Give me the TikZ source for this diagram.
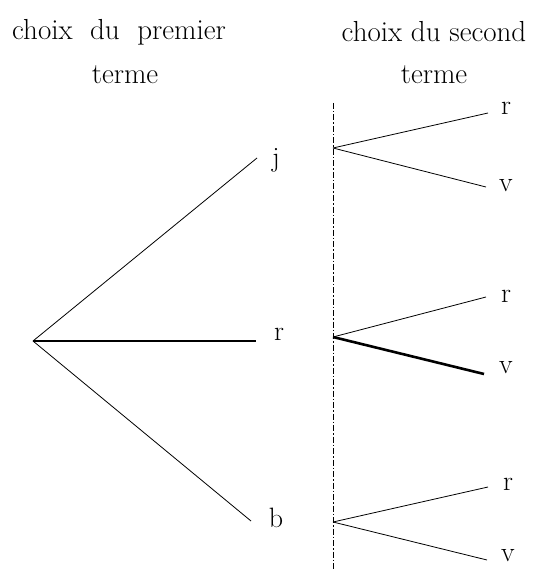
\documentclass[tikz,border=0pt]{standalone}
\begin{document}
\begin{tikzpicture}[x=1pt,y=-1pt,
  lbl/.style={font=\fontsize{28}{32}\selectfont, inner sep=0pt},
  title/.style={font=\fontsize{29}{34}\selectfont, inner sep=0pt, align=center},
  edge/.style={line width=0.8pt},
  heavy/.style={line width=2.6pt},
  axis/.style={line width=0.8pt, dash pattern=on 6pt off 2pt on 1.5pt off 2pt}]
\useasboundingbox (0,0) rectangle (538,569);
% titles
\node[title] (t1) at (119,32) {choix\ \ du\ \ premier};
\node[title] (t1b) at (125,75) {terme};
\node[title] (t2) at (434,32) {choix du second};
\node[title] (t2b) at (434,75) {terme};
% first level
\coordinate (root) at (33,341);
\coordinate (ej) at (257,158);
\coordinate (er) at (256,341);
\coordinate (eb) at (251,521);
\node[lbl] (lj) at (276,160) {j};
\node[lbl] (lr) at (279,334) {r};
\node[lbl] (lb) at (276,518) {b};
\draw[edge] (root) -- (ej);
\draw[heavy] (root) -- (er);
\draw[edge] (root) -- (eb);
% axis
\coordinate (at) at (333,103);
\coordinate (ab) at (333,569);
\draw[axis] (at) -- (ab);
% second level
\coordinate (s1) at (333,148);
\coordinate (s2) at (333,337);
\coordinate (s3) at (333,522);
\coordinate (s1r) at (488,113);
\coordinate (s1v) at (486,187);
\coordinate (s2r) at (486,297);
\coordinate (s2v) at (484,374);
\coordinate (s3r) at (488,487);
\coordinate (s3v) at (487,560);
\node[lbl] (l1r) at (506,108) {r};
\node[lbl] (l1v) at (506,186) {v};
\node[lbl] (l2r) at (506,296) {r};
\node[lbl] (l2v) at (506,368) {v};
\node[lbl] (l3r) at (508,484) {r};
\node[lbl] (l3v) at (508,556) {v};
\draw[edge] (s1) -- (s1r);
\draw[edge] (s1) -- (s1v);
\draw[edge] (s2) -- (s2r);
\draw[heavy] (s2) -- (s2v);
\draw[edge] (s3) -- (s3r);
\draw[edge] (s3) -- (s3v);
\end{tikzpicture}
\end{document}
